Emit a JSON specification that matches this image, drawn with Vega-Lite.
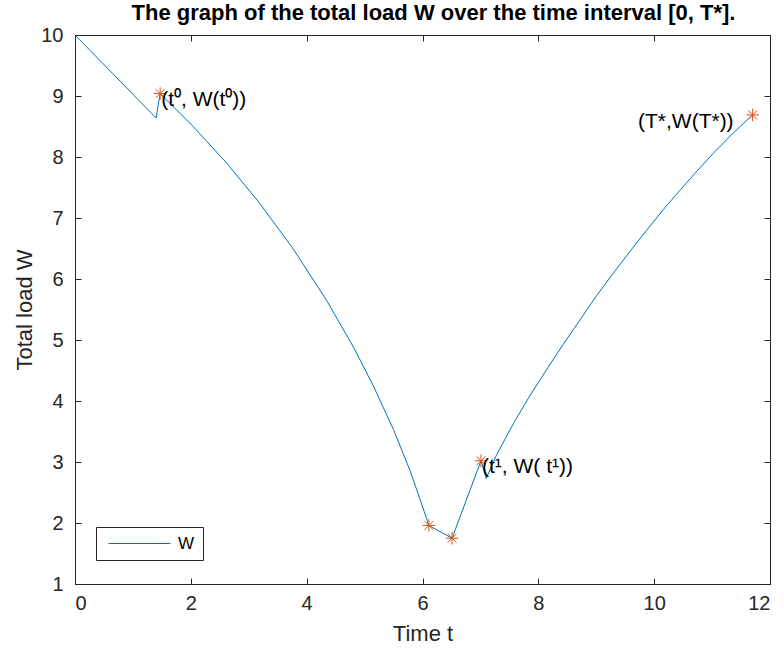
{
  "$schema": "https://vega.github.io/schema/vega-lite/v6.json",
  "width": 695,
  "height": 549,
  "autosize": {"type": "none"},
  "padding": {"left": 75, "top": 35, "right": 14, "bottom": 70},
  "background": "white",
  "config": {
    "font": "Liberation Sans",
    "view": {"stroke": "#262626", "strokeWidth": 1},
    "axis": {
      "labelFont": "Liberation Sans",
      "titleFont": "Liberation Sans",
      "labelFontSize": 20,
      "titleFontSize": 22,
      "titleFontWeight": "normal",
      "labelColor": "#262626",
      "titleColor": "#262626",
      "domainColor": "#262626",
      "tickColor": "#262626",
      "grid": false
    }
  },
  "title": {
    "text": "The graph of the total load W over the time interval [0, T*].",
    "font": "Liberation Sans",
    "fontSize": 22,
    "fontWeight": "bold",
    "color": "black",
    "offset": 0,
    "dx": 11
  },
  "datasets": {
    "line": [
      {"t": 0, "W": 10, "s": "W"},
      {"t": 1.40, "W": 8.64, "s": "W"},
      {"t": 1.47, "W": 9.04, "s": "W"},
      {"t": 2.04, "W": 8.50, "s": "W"},
      {"t": 2.62, "W": 7.90, "s": "W"},
      {"t": 3.19, "W": 7.24, "s": "W"},
      {"t": 3.77, "W": 6.49, "s": "W"},
      {"t": 4.35, "W": 5.64, "s": "W"},
      {"t": 4.81, "W": 4.88, "s": "W"},
      {"t": 5.15, "W": 4.25, "s": "W"},
      {"t": 5.50, "W": 3.53, "s": "W"},
      {"t": 5.78, "W": 2.87, "s": "W"},
      {"t": 5.95, "W": 2.41, "s": "W"},
      {"t": 6.11, "W": 1.96, "s": "W"},
      {"t": 6.51, "W": 1.75, "s": "W"},
      {"t": 7.01, "W": 3.02, "s": "W"},
      {"t": 7.10, "W": 2.73, "s": "W"},
      {"t": 7.28, "W": 3.12, "s": "W"},
      {"t": 7.57, "W": 3.63, "s": "W"},
      {"t": 7.85, "W": 4.08, "s": "W"},
      {"t": 8.14, "W": 4.51, "s": "W"},
      {"t": 8.43, "W": 4.93, "s": "W"},
      {"t": 8.72, "W": 5.33, "s": "W"},
      {"t": 9.00, "W": 5.72, "s": "W"},
      {"t": 9.29, "W": 6.09, "s": "W"},
      {"t": 9.58, "W": 6.45, "s": "W"},
      {"t": 9.87, "W": 6.80, "s": "W"},
      {"t": 10.16, "W": 7.14, "s": "W"},
      {"t": 10.45, "W": 7.46, "s": "W"},
      {"t": 10.74, "W": 7.77, "s": "W"},
      {"t": 11.02, "W": 8.06, "s": "W"},
      {"t": 11.35, "W": 8.38, "s": "W"},
      {"t": 11.70, "W": 8.69, "s": "W"}
    ],
    "stars": [
      {"t": 1.47, "W": 9.04},
      {"t": 6.11, "W": 1.96},
      {"t": 6.51, "W": 1.75},
      {"t": 7.01, "W": 3.02},
      {"t": 11.70, "W": 8.69}
    ],
    "labels": [
      {"t": 1.47, "W": 9.04, "label": "(t⁰, W(t⁰))", "side": "left"},
      {"t": 7.01, "W": 3.02, "label": "(t¹, W( t¹))", "side": "left"},
      {"t": 11.70, "W": 8.69, "label": "(T*,W(T*))", "side": "right"}
    ]
  },
  "resolve": {"axis": {"x": "independent", "y": "independent"}},
  "layer": [
    {
      "data": {"name": "line"},
      "mark": {"type": "line", "strokeWidth": 1, "color": "#0072BD"},
      "encoding": {
        "x": {"field": "t", "type": "quantitative", "scale": {"domain": [0, 12], "nice": false, "zero": false},
              "axis": {"title": "Time t", "values": [0, 2, 4, 6, 8, 10, 12], "tickSize": -6, "labelPadding": 15, "titlePadding": 10}},
        "y": {"field": "W", "type": "quantitative", "scale": {"domain": [1, 10], "nice": false, "zero": false},
              "axis": {"title": "Total load W", "values": [1, 2, 3, 4, 5, 6, 7, 8, 9, 10], "tickSize": -6, "labelPadding": 18, "titlePadding": 4}},
        "color": {"field": "s", "type": "nominal", "scale": {"range": ["#0072BD"]},
                  "legend": {"title": null, "orient": "none", "legendX": 21, "legendY": 492, "symbolType": "M-6.2,0L6.2,0", "symbolSize": 100, "symbolStrokeWidth": 1, "labelFontSize": 17, "labelFont": "Liberation Sans", "labelColor": "black", "labelOffset": 30, "symbolOffset": 27, "strokeColor": "#262626", "padding": 8, "fillColor": "white"}}
      }
    },
    {
      "data": {"name": "stars"},
      "mark": {"type": "point", "shape": "M-1,0L1,0M0,-1L0,1M-0.7,-0.7L0.7,0.7M-0.7,0.7L0.7,-0.7", "size": 160, "filled": false, "stroke": "#D95319", "strokeWidth": 1, "opacity": 1},
      "encoding": {
        "x": {"field": "t", "type": "quantitative", "axis": {"orient": "top", "labels": false, "title": null, "values": [0, 2, 4, 6, 8, 10, 12], "tickSize": -6, "domain": false}},
        "y": {"field": "W", "type": "quantitative", "axis": {"orient": "right", "labels": false, "title": null, "values": [1, 2, 3, 4, 5, 6, 7, 8, 9, 10], "tickSize": -6, "domain": false}}
      }
    },
    {
      "data": {"name": "labels"},
      "transform": [{"filter": "datum.side == 'left'"}],
      "mark": {"type": "text", "align": "left", "baseline": "middle", "dx": 1, "dy": 6, "fontSize": 21, "font": "Liberation Sans", "color": "black"},
      "encoding": {
        "x": {"field": "t", "type": "quantitative", "axis": null},
        "y": {"field": "W", "type": "quantitative", "axis": null},
        "text": {"field": "label"}
      }
    },
    {
      "data": {"name": "labels"},
      "transform": [{"filter": "datum.side == 'right'"}],
      "mark": {"type": "text", "align": "right", "baseline": "middle", "dx": -19, "dy": 7, "fontSize": 21, "font": "Liberation Sans", "color": "black"},
      "encoding": {
        "x": {"field": "t", "type": "quantitative", "axis": null},
        "y": {"field": "W", "type": "quantitative", "axis": null},
        "text": {"field": "label"}
      }
    }
  ]
}
